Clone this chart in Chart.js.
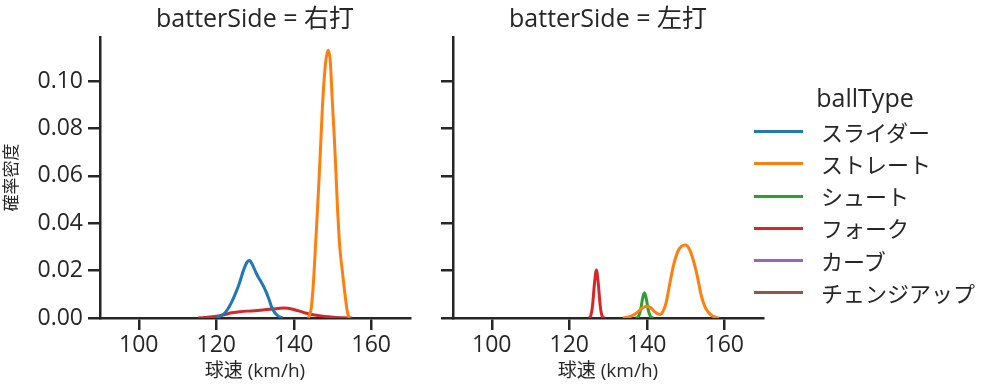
<!DOCTYPE html>
<html>
<head>
<meta charset="utf-8">
<script src="https://cdn.jsdelivr.net/npm/chart.js@4.4.1/dist/chart.umd.min.js"></script>
<style>
html,body{margin:0;padding:0;background:#fff;}
#wrap{position:relative;width:999px;height:391px;overflow:hidden;color:#262626;font-family:'Open Sans','Noto Sans CJK JP',sans-serif;}
.panel{position:absolute;top:0;}
#legend{position:absolute;left:0;top:0;width:999px;height:391px;pointer-events:none;}
.lg-title{position:absolute;left:765px;width:200px;text-align:center;font-size:25px;height:34px;line-height:34px;}
.lg-row{position:absolute;left:754px;height:32px;line-height:32px;font-size:22px;white-space:nowrap;}
.lg-row .h{position:absolute;left:0;top:14.5px;width:49px;height:3px;}
.lg-row .t{position:absolute;left:67px;top:0;}
</style>
</head>
<body>
<div id="wrap">
  <div class="panel" style="left:0;width:425px;height:391px;"><canvas id="c1" width="425" height="391"></canvas></div>
  <div class="panel" style="left:420px;width:360px;height:391px;"><canvas id="c2" width="360" height="391"></canvas></div>
  <div id="legend"></div>
</div>
<script>
// ---- data ----
const facetTitles = ['batterSide = 右打', 'batterSide = 左打'];
const ballTypes = ['スライダー', 'ストレート', 'シュート', 'フォーク', 'カーブ', 'チェンジアップ'];
const xTicks = [100, 120, 140, 160];
const yTicks = [0, 0.02, 0.04, 0.06, 0.08, 0.10];
const xLabel = '球速 (km/h)';
const yLabel = '確率密度';
const legendTitle = 'ballType';

// batterSide = 右打
const r_slider_speed   = [120.0, 121, 122, 123, 124, 125, 126, 127, 128, 128.6, 129.3, 130.3, 131, 131.6, 132.3, 133, 133.7, 134.3, 135, 136, 137.1];
const r_slider_density = [0, 0.0008, 0.0018, 0.0038, 0.0068, 0.0105, 0.0148, 0.0200, 0.0237, 0.0243, 0.0226, 0.0190, 0.0168, 0.0152, 0.0130, 0.0105, 0.0075, 0.0045, 0.0025, 0.0008, 0];
const r_straight_speed   = [143.8, 144.5, 145, 145.7, 146.2, 146.6, 147, 147.4, 147.9, 148.4, 148.9, 149.4, 150, 150.5, 150.9, 151.3, 151.7, 152.1, 152.6, 153, 153.4, 153.8, 154.3];
const r_straight_density = [0, 0.004, 0.013, 0.033, 0.048, 0.061, 0.075, 0.089, 0.102, 0.110, 0.113, 0.109, 0.090, 0.075, 0.061, 0.046, 0.034, 0.026, 0.019, 0.013, 0.0076, 0.003, 0];
const r_shoot_speed = [];
const r_shoot_density = [];
const r_fork_speed   = [115.3, 117, 119, 121, 122.5, 124, 126, 128, 130, 132, 134, 136, 137.5, 138.5, 140, 141.5, 143, 145, 147, 149, 151, 153, 155.1];
const r_fork_density = [0, 0.0002, 0.0005, 0.0010, 0.0016, 0.0022, 0.0026, 0.0029, 0.0031, 0.0034, 0.0037, 0.0040, 0.0042, 0.0041, 0.0036, 0.0029, 0.0021, 0.0014, 0.0009, 0.0005, 0.0002, 0.0001, 0];
const r_curve_speed = [];
const r_curve_density = [];
const r_change_speed = [];
const r_change_density = [];

// batterSide = 左打
const l_slider_speed = [];
const l_slider_density = [];
const l_straight_speed   = [133.8, 135, 136, 137, 138, 139, 140, 141, 142, 143, 143.5, 144, 145, 146, 147, 148, 149, 150, 151, 152, 153, 154, 155, 156, 157, 158, 158.7];
const l_straight_density = [0, 0.0003, 0.0008, 0.0017, 0.0030, 0.0044, 0.0050, 0.0043, 0.0027, 0.0016, 0.0015, 0.0022, 0.0065, 0.0150, 0.0228, 0.0280, 0.0303, 0.0308, 0.0290, 0.0245, 0.0180, 0.0100, 0.0048, 0.0022, 0.0008, 0.0002, 0];
const l_shoot_speed   = [137.3, 137.9, 138.4, 138.9, 139.4, 139.9, 140.4, 140.9, 141.7];
const l_shoot_density = [0, 0.0008, 0.0033, 0.0080, 0.0107, 0.0080, 0.0033, 0.0008, 0];
const l_fork_speed   = [125.2, 125.6, 126.0, 126.5, 127.0, 127.5, 128.0, 128.4, 129.1];
const l_fork_density = [0, 0.0012, 0.0051, 0.0144, 0.0203, 0.0144, 0.0051, 0.0012, 0];
const l_curve_speed = [];
const l_curve_density = [];
const l_change_speed = [];
const l_change_density = [];

// ---- styling ----
const palette = ['#1f77b4', '#ff7f0e', '#2ca02c', '#d62728', '#9467bd', '#8c564b'];
const FAMILY = "'Open Sans', 'Noto Sans CJK JP', sans-serif";
const INK = '#262626';
const X_MIN = 90, X_MAX = 170, Y_MIN = 0, Y_MAX = 0.1186;

function pts(xs, ys) { return xs.map((x, i) => ({ x: x, y: ys[i] })); }

const panelSeries = [
  [[r_slider_speed, r_slider_density], [r_straight_speed, r_straight_density], [r_shoot_speed, r_shoot_density],
   [r_fork_speed, r_fork_density], [r_curve_speed, r_curve_density], [r_change_speed, r_change_density]],
  [[l_slider_speed, l_slider_density], [l_straight_speed, l_straight_density], [l_shoot_speed, l_shoot_density],
   [l_fork_speed, l_fork_density], [l_curve_speed, l_curve_density], [l_change_speed, l_change_density]]
];

function makeChart(canvasId, idx, yWidth, padRight, showY) {
  const datasets = ballTypes.map((name, i) => ({
    label: name,
    data: pts(panelSeries[idx][i][0], panelSeries[idx][i][1]),
    borderColor: palette[i],
    backgroundColor: palette[i],
    borderWidth: 3,
    pointRadius: 0,
    fill: false,
    cubicInterpolationMode: 'monotone'
  }));
  return new Chart(document.getElementById(canvasId), {
    type: 'line',
    data: { datasets: datasets },
    options: {
      responsive: false,
      animation: false,
      devicePixelRatio: 1,
      layout: { padding: { left: 0, right: padRight, top: 0, bottom: 0 } },
      plugins: {
        legend: { display: false },
        tooltip: { enabled: false },
        title: {
          display: true, text: facetTitles[idx], fullSize: false, color: INK,
          font: { family: FAMILY, size: 25, weight: 'normal', lineHeight: 1.2 },
          padding: { top: 5, bottom: 2 }
        }
      },
      scales: {
        x: {
          type: 'linear', min: X_MIN, max: X_MAX,
          afterBuildTicks: s => { s.ticks = xTicks.map(v => ({ value: v })); },
          afterFit: s => { s.height = 73; },
          grid: { display: true, drawOnChartArea: false, drawTicks: true, tickLength: 12, lineWidth: 2.5, color: INK },
          border: { display: true, color: INK, width: 2.5 },
          ticks: { font: { family: FAMILY, size: 23 }, color: INK, padding: 2, maxRotation: 0, autoSkip: false,
                   callback: v => String(v) },
          title: { display: true, text: xLabel, color: INK, font: { family: FAMILY, size: 19 }, padding: { top: 0, bottom: 8 } }
        },
        y: {
          type: 'linear', min: Y_MIN, max: Y_MAX,
          afterBuildTicks: s => { s.ticks = yTicks.map(v => ({ value: v })); },
          afterFit: s => { s.width = yWidth; },
          grid: { display: true, drawOnChartArea: false, drawTicks: true, tickLength: 12, lineWidth: 2.5, color: INK },
          border: { display: true, color: INK, width: 2.5 },
          ticks: { display: showY, font: { family: FAMILY, size: 23 }, color: INK, padding: 5,
                   callback: v => Number(v).toFixed(2) },
          title: { display: showY, text: yLabel, color: INK, font: { family: FAMILY, size: 17 }, padding: { top: 2, bottom: 0 } }
        }
      }
    }
  });
}

makeChart('c1', 0, 100, 15, true);
makeChart('c2', 1, 33, 17, false);

// ---- legend (HTML) ----
const lg = document.getElementById('legend');
const t = document.createElement('div');
t.className = 'lg-title';
t.style.top = (97 - 17) + 'px';
t.textContent = legendTitle;
lg.appendChild(t);
ballTypes.forEach((name, i) => {
  const row = document.createElement('div');
  row.className = 'lg-row';
  row.style.top = (131.7 + i * 32.2 - 16) + 'px';
  const h = document.createElement('div');
  h.className = 'h';
  h.style.background = palette[i];
  const tx = document.createElement('div');
  tx.className = 't';
  tx.textContent = name;
  row.appendChild(h); row.appendChild(tx);
  lg.appendChild(row);
});
</script>
</body>
</html>
